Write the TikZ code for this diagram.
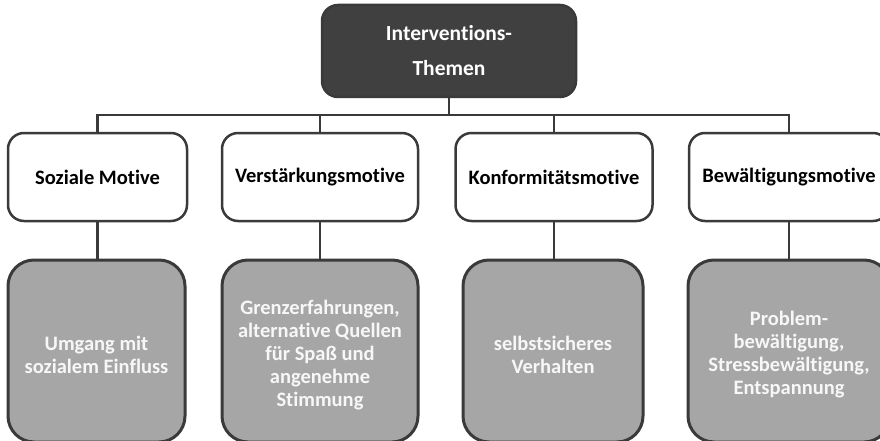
\documentclass[tikz,border=0pt]{standalone}
\usepackage{fontspec}
\setmainfont[Ligatures=NoCommon]{Carlito}
\definecolor{linegray}{HTML}{3A3A3A}
\definecolor{headfill}{HTML}{404040}
\definecolor{leaffill}{HTML}{A6A6A6}
\begin{document}
\begin{tikzpicture}[x=1pt,y=-1pt,
  every node/.style={font=\fontsize{20.5}{23}\selectfont\bfseries, align=center, inner sep=0pt},
  headbox/.style={draw=linegray, line width=2.5pt, fill=headfill, text=white, rounded corners=16pt,
    minimum width=254pt, minimum height=92pt, font=\fontsize{21.5}{35}\selectfont\bfseries},
  motivebox/.style={draw=linegray, line width=2.5pt, fill=white, rounded corners=16pt,
    minimum height=88pt},
  topicbox/.style={draw=linegray, line width=3pt, fill=leaffill, rounded corners=26pt,
    minimum height=182pt},
  topictext/.style={text=white!97!black},
  link/.style={draw=linegray, line width=2.5pt}]
\useasboundingbox (0,0) rectangle (880,441);
\clip (0,0) rectangle (880,441);

% root
\node[headbox] (root) at (449,51) {Interventions-\\Themen};

% motives
\node[motivebox, minimum width=179pt] (m1) at (97.5,177) {Soziale Motive};
\node[motivebox, minimum width=196pt] (m2) at (320,177) {Verstärkungsmotive};
\node[motivebox, minimum width=197pt] (m3) at (554,177) {Konformitätsmotive};
\node[motivebox, minimum width=200pt] (m4) at (789,177) {Bewältigungsmotive};

% intervention topics: box, then its text set slightly below centre
\node[topicbox, minimum width=177pt] (t1) at (96.5,351) {};
\node[topicbox, minimum width=196pt] (t2) at (320,351) {};
\node[topicbox, minimum width=180pt] (t3) at (553,351) {};
\node[topicbox, minimum width=202pt] (t4) at (789,351) {};
\node[topictext] (t1text) at ([yshift=-4pt]t1.center) {Umgang mit\\sozialem Einfluss};
\node[topictext] (t2text) at ([yshift=-4pt]t2.center) {Grenzerfahrungen,\\alternative Quellen\\für Spaß und\\angenehme\\Stimmung};
\node[topictext] (t3text) at ([yshift=-4pt]t3.center) {selbstsicheres\\Verhalten};
\node[topictext] (t4text) at ([yshift=-4pt]t4.center) {Problem-\\bewältigung,\\Stressbewältigung,\\Entspannung};

% connectors
\coordinate (bar) at (449,115);
\draw[link] (root.south) -- (bar);
\draw[link] (m1.north) -- (m1.north |- bar) -- (m4.north |- bar) -- (m4.north);
\draw[link] (m2.north) -- (m2.north |- bar);
\draw[link] (m3.north) -- (m3.north |- bar);
\foreach \i in {1,2,3,4} {
  \draw[link] (m\i.south) -- (m\i.south |- t\i.north);
}
\end{tikzpicture}
\end{document}
